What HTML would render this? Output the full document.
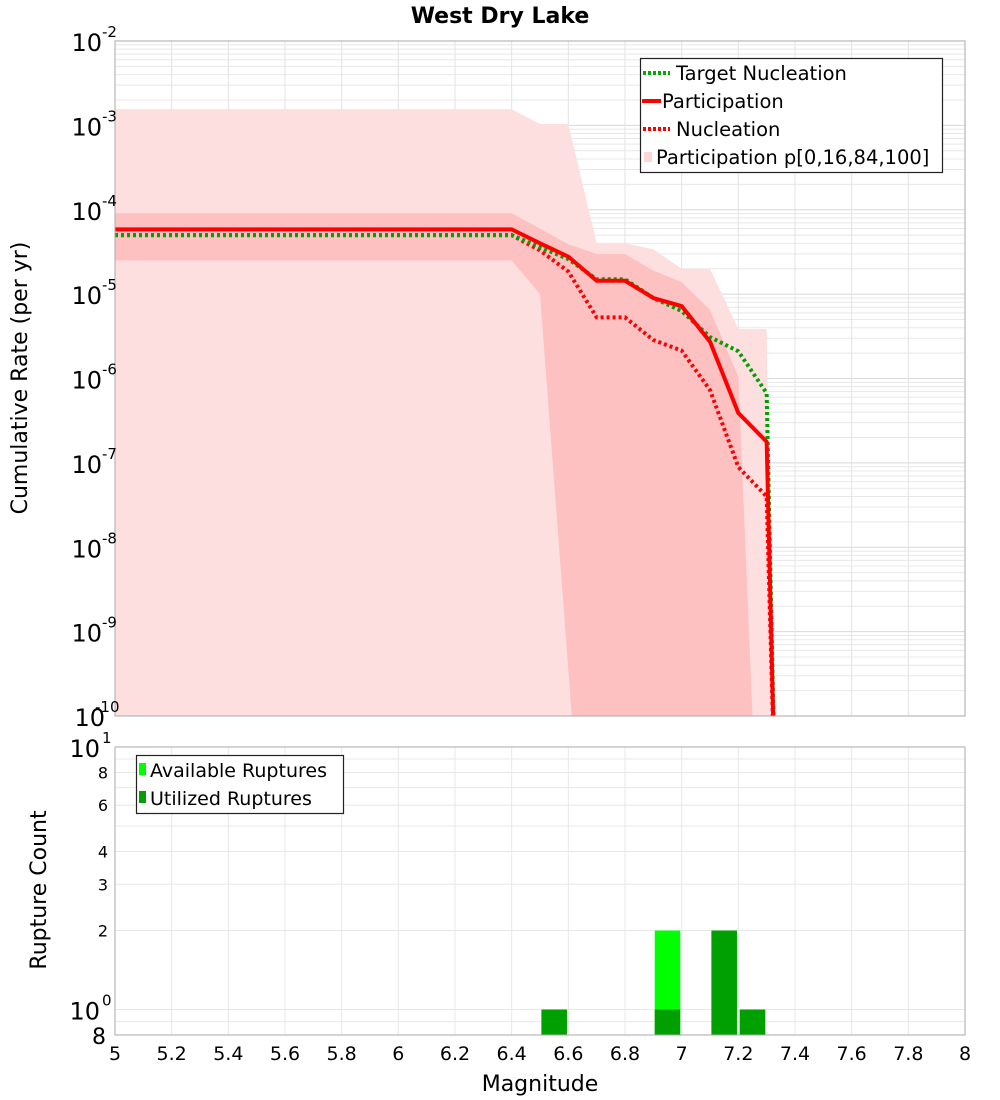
<!DOCTYPE html>
<html><head><meta charset="utf-8"><style>
html,body{margin:0;padding:0;background:#fff;}
svg{display:block;font-family:"DejaVu Sans","Liberation Sans",sans-serif;}
</style></head><body>
<svg id="chart" width="1000" height="1100" viewBox="0 0 1000 1100" xmlns="http://www.w3.org/2000/svg">
<text x="500" y="23" text-anchor="middle" font-size="22" font-weight="bold">West Dry Lake</text>
<text transform="translate(27,378) rotate(-90)" text-anchor="middle" font-size="22">Cumulative Rate (per yr)</text>
<text transform="translate(46,890) rotate(-90)" text-anchor="middle" font-size="22">Rupture Count</text>
<text x="540" y="1091" text-anchor="middle" font-size="22">Magnitude</text>
<g id="topG"></g>
<g id="botG"></g>
<g id="topLegend">
<rect x="640.5" y="58.5" width="302" height="114" fill="#fff" stroke="#222" stroke-width="1.2"/>
<line x1="643" y1="73" x2="670" y2="73" stroke="#00aa00" stroke-width="4" stroke-dasharray="3,2"/>
<text x="676" y="80" font-size="19.5">Target Nucleation</text>
<line x1="642" y1="101" x2="661" y2="101" stroke="#ff0000" stroke-width="4"/>
<text x="662" y="108" font-size="19.5">Participation</text>
<line x1="643" y1="129" x2="670" y2="129" stroke="#ff0000" stroke-width="4" stroke-dasharray="3,2"/>
<text x="676" y="136" font-size="19.5">Nucleation</text>
<rect x="644" y="152" width="8" height="10" fill="#fcd7d7"/>
<text x="656" y="164" font-size="19.5">Participation p[0,16,84,100]</text>
</g>
<g id="botLegend">
<rect x="136.5" y="755.5" width="207" height="58" fill="#fff" stroke="#222" stroke-width="1.2"/>
<rect x="139" y="763" width="7" height="12" fill="#00ff00"/>
<text x="150" y="777" font-size="19">Available Ruptures</text>
<rect x="139" y="791" width="7" height="12" fill="#00a000"/>
<text x="150" y="805" font-size="19">Utilized Ruptures</text>
</g>
</svg>
<script>
const mags = [5.0, 6.4, 6.5, 6.6, 6.7, 6.8, 6.9, 7.0, 7.1, 7.2, 7.3, 7.33];
const participation = [5.86e-5,5.86e-5,4.0e-5,2.78e-5,1.44e-5,1.44e-5,9.0e-6,7.2e-6,2.73e-6,3.9e-7,1.78e-7,1e-11];
const nucleation = [5.0e-5,5.0e-5,3.3e-5,1.85e-5,5.3e-6,5.3e-6,2.86e-6,2.14e-6,7.3e-7,8.9e-8,4e-8,1e-11];
const targetNucleation = [5.0e-5,5.0e-5,3.6e-5,2.6e-5,1.5e-5,1.5e-5,9.0e-6,6.3e-6,3.1e-6,2.1e-6,6.7e-7,1e-11];
const bandP0 = [1e-12,1e-12,1e-12,1e-12,1e-12,1e-12,1e-12,1e-12,1e-12,1e-12,1e-12,1e-12];
const bandP100 = [1.56e-3,1.56e-3,1.04e-3,1.04e-3,4.0e-5,4.0e-5,3.4e-5,2.0e-5,2.0e-5,3.86e-6,3.86e-6,1e-12];
const bandP16 = [2.5e-5,2.5e-5,1.0e-5,3.5e-10,1e-14,1e-14,1e-14,1e-14,1e-14,1e-14,1e-14,1e-14];
const bandP84 = [9.1e-5,9.1e-5,6.0e-5,3.9e-5,3.0e-5,3.0e-5,1.9e-5,1.39e-5,6.5e-6,1.05e-6,1e-14,1e-14];
const barMags = [6.55, 6.95, 7.15, 7.25];
const availableCounts = [1, 2, 2, 1];
const utilizedCounts = [1, 1, 2, 1];
const xTicks = [5,5.2,5.4,5.6,5.8,6,6.2,6.4,6.6,6.8,7,7.2,7.4,7.6,7.8,8];
const topExps = [-10,-9,-8,-7,-6,-5,-4,-3,-2];
const botTicks = [2,3,4,6,8];

const NS="http://www.w3.org/2000/svg";
const L=115,R=965,T1=41,B1=716,T2=747,B2=1035;
const X=m=>L+(m-5)/3*(R-L);
const Y1=v=>B1-(Math.log10(v)+10)/8*(B1-T1);
const Y2=v=>B2-(Math.log10(v)-Math.log10(0.8))/Math.log10(12.5)*(B2-T2);
function mk(p,tag,at){const e=document.createElementNS(NS,tag);for(const k in at)e.setAttribute(k,at[k]);p.appendChild(e);return e;}
const svgEl=document.getElementById('chart');
const topG=document.getElementById('topG'), botG=document.getElementById('botG');
const defs=mk(svgEl,'defs',{});
const c1=mk(defs,'clipPath',{id:'c1'});mk(c1,'rect',{x:L,y:T1,width:R-L,height:B1-T1});
const c2=mk(defs,'clipPath',{id:'c2'});mk(c2,'rect',{x:L,y:T2,width:R-L,height:B2-T2});

const f1=mk(topG,'rect',{x:L,y:T1,width:R-L,height:B1-T1,fill:'#fff',stroke:'none'});


const gT=mk(topG,'g',{'clip-path':'url(#c1)'});
for(let e=-10;e<-2;e++)for(let k=1;k<10;k++){const y=Y1(k*Math.pow(10,e));
 const ln=mk(gT,'line',{x1:L,x2:R,y1:y,y2:y,stroke:k==1?'#d8d8d8':'#e8e8e8','stroke-width':1});
 
 }
xTicks.forEach(m=>{const ln=mk(gT,'line',{x1:X(m),x2:X(m),y1:T1,y2:B1,stroke:'#e3e3e3'});
 
 });
function band(lo,hi,fill,name){let d='';mags.forEach((m,i)=>{d+=(i?'L':'M')+X(m)+','+Y1(hi[i]);});
 for(let i=mags.length-1;i>=0;i--)d+='L'+X(mags[i])+','+Y1(lo[i]);d+='Z';
 const p=mk(gT,'path',{d:d,fill:fill});
 
 }
band(bandP0,bandP100,'#fedfe0','band-p0-p100');
band(bandP16,bandP84,'#fec1c2','band-p16-p84');
function line(vals,color,dash,name){const pts=mags.map((m,i)=>X(m)+','+Y1(vals[i])).join(' ');
 const a={points:pts,fill:'none',stroke:color,'stroke-width':4,'stroke-linejoin':'miter'};if(dash)a['stroke-dasharray']=dash;
 const p=mk(gT,'polyline',a);
 
 }
line(nucleation,'#ff0000','3,3','nucleation-line');
line(targetNucleation,'#00a000','3,3','target-nucleation-line');
line(participation,'#ff0000',null,'participation-line');
const b1=mk(topG,'rect',{x:L,y:T1,width:R-L,height:B1-T1,fill:'none',stroke:'#aaa'});


topExps.forEach(e=>{const y=Y1(Math.pow(10,e));
 const t=mk(topG,'text',{x:e<=-10?105:102,y:y+10,'text-anchor':'end','font-size':24});t.textContent='10';
 
 
 const s=mk(topG,'text',{x:e<=-10?95:102,y:y-4,'font-size':15});s.textContent=String(e);
 
 });

const f2=mk(botG,'rect',{x:L,y:T2,width:R-L,height:B2-T2,fill:'#fff'});


const gB=mk(botG,'g',{'clip-path':'url(#c2)'});
[0.9,1,2,3,4,5,6,7,8,9].forEach(v=>{const y=Y2(v);const ln=mk(gB,'line',{x1:L,x2:R,y1:y,y2:y,stroke:'#e8e8e8'});
 
 });
xTicks.forEach(m=>{const ln=mk(gB,'line',{x1:X(m),x2:X(m),y1:T2,y2:B2,stroke:'#e8e8e8'});
 
 });
const bw=(X(0.1)-X(0))*0.9;
barMags.forEach((m,i)=>{const x=X(m)-bw/2;
 const a=mk(gB,'rect',{x:x,y:Y2(availableCounts[i]),width:bw,height:B2-Y2(availableCounts[i]),fill:'#00ff00'});
 
 
 const u=mk(gB,'rect',{x:x,y:Y2(utilizedCounts[i]),width:bw,height:B2-Y2(utilizedCounts[i]),fill:'#00a000'});
 
 });
const b2=mk(botG,'rect',{x:L,y:T2,width:R-L,height:B2-T2,fill:'none',stroke:'#aaa'});


[[10,'1'],[1,'0']].forEach(([v,e])=>{const y=Y2(v);
 const t=mk(botG,'text',{x:100,y:y+10,'text-anchor':'end','font-size':24});t.textContent='10';
 
 
 const s=mk(botG,'text',{x:102,y:y-4,'font-size':15});s.textContent=e;
 
 });
botTicks.forEach(v=>{const t=mk(botG,'text',{x:108,y:Y2(v)+6,'text-anchor':'end','font-size':16});t.textContent=String(v);
 
 });
const t8=mk(botG,'text',{x:106,y:B2+9,'text-anchor':'end','font-size':22});t8.textContent='8';


xTicks.forEach(m=>{const t=mk(botG,'text',{x:X(m),y:1060,'text-anchor':'middle','font-size':19});
 t.textContent=String(Math.round(m*10)/10);
 
 });
svgEl.appendChild(document.getElementById('topLegend'));
svgEl.appendChild(document.getElementById('botLegend'));
</script>
</body></html>
